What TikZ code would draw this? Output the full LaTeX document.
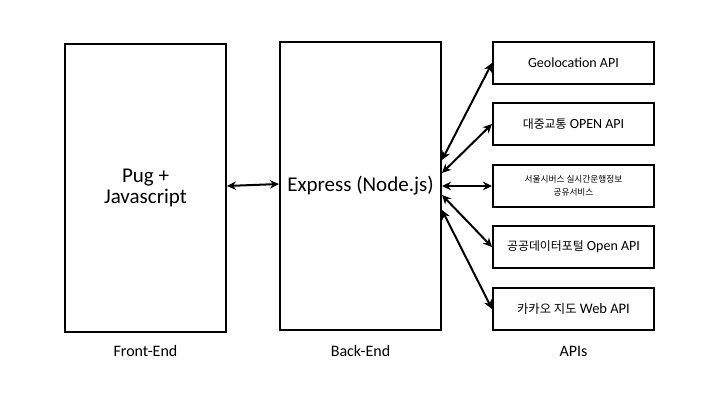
\documentclass[tikz,border=0pt]{standalone}
\usepackage{fontspec}
\setmainfont{Carlito}
\newfontfamily\kr[Scale=0.85]{Noto Sans CJK KR}
\usetikzlibrary{arrows.meta}

\begin{document}
\begin{tikzpicture}[x=1pt,y=1pt,
        box/.style={draw,line width=2pt,minimum width=161pt,inner sep=0pt,align=center},
        tallbox/.style={box,minimum height=288pt,font=\fontsize{21}{21.5}\selectfont},
        apibox/.style={box,minimum height=42pt,font=\fontsize{14}{16}\selectfont},
        caption/.style={font=\fontsize{16}{18}\selectfont},
        link/.style={{Stealth[length=9pt,width=8.5pt]}-{Stealth[length=9pt,width=8.5pt]},line width=2pt}]
        \useasboundingbox (0,0) rectangle (720,405);

        % the three columns
        \node[tallbox] (front) at (145.5,217) {Pug +\\Javascript};
        \node[tallbox] (back) at (360.5,219) {Express (Node.js)};

        \node[apibox] (geo) at (573.5,342) {Geolocation API};
        \node[apibox] (transit) at (573.5,281) {{\kr 대중교통} OPEN API};
        \node[apibox,font=\fontsize{10.2}{12.5}\selectfont] (bus) at (573.5,219) {{\kr 서울시버스 실시간운행정보}\\{\kr 공유서비스}};
        \node[apibox] (portal) at (573.5,158) {{\kr 공공데이터포털} Open API};
        \node[apibox,font=\fontsize{14.5}{16}\selectfont] (kakao) at (573.5,96) {{\kr 카카오 지도} Web API};

        \node[caption] (frontlabel) at (145.5,54) {Front-End};
        \node[caption] (backlabel) at (360.5,54) {Back-End};
        \node[caption] (apilabel) at (573.5,54) {APIs};

        % connections
        \draw[link] ([yshift=2pt]front.east) -- ([yshift=2pt]back.west);
        \draw[link] ([yshift=26pt]back.east) -- (geo.west);
        \draw[link] ([yshift=13pt]back.east) -- (transit.west);
        \draw[link] (back.east) -- (bus.west);
        \draw[link] ([yshift=-9pt]back.east) -- (portal.west);
        \draw[link] ([yshift=-24pt]back.east) -- (kakao.west);
\end{tikzpicture}
\end{document}
